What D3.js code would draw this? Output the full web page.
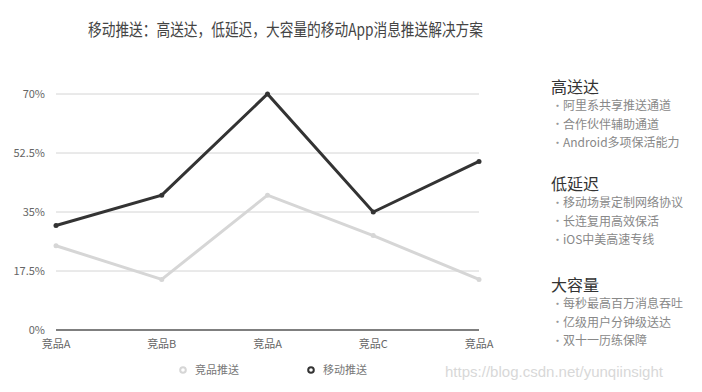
<!DOCTYPE html>
<html><head><meta charset="utf-8">
<script src="https://cdn.jsdelivr.net/npm/d3@7"></script>
<style>body{margin:0;background:#fff;}svg{display:block;font-family:"Noto Sans CJK SC","Noto Sans",sans-serif;}</style>
</head><body>
<svg id="c" width="702" height="392"></svg>
<script>
const title = "移动推送：高送达，低延迟，大容量的移动App消息推送解决方案";
const categories = ["竞品A", "竞品B", "竞品A", "竞品C", "竞品A"];
const yTicks = [0, 17.5, 35, 52.5, 70];
const yTickLabels = ["0%", "17.5%", "35%", "52.5%", "70%"];
const seriesNames = ["竞品推送", "移动推送"];
const competitorValues = [25, 15, 40, 28, 15];
const mobileValues = [31, 40, 70, 35, 50];
const panelHeadings = ["高送达", "低延迟", "大容量"];
const panelItems = [
  ["阿里系共享推送通道", "合作伙伴辅助通道", "Android多项保活能力"],
  ["移动场景定制网络协议", "长连复用高效保活", "iOS中美高速专线"],
  ["每秒最高百万消息吞吐", "亿级用户分钟级送达", "双十一历练保障"]
];
const watermark = "https://blog.csdn.net/yunqiinsight";

const svg = d3.select("#c");
const x = d3.scalePoint().domain(d3.range(categories.length)).range([56, 479]);
const y = d3.scaleLinear().domain([0, 70]).range([330, 94]);

svg.append("text").attr("x", 88).attr("y", 36).attr("font-size", 17.5)
  .attr("fill", "#444").attr("textLength", 395).attr("lengthAdjust", "spacingAndGlyphs").text(title);

// grid
svg.append("g").selectAll("line").data(yTicks.filter(d => d > 0)).join("line")
  .attr("x1", 56).attr("x2", 479).attr("y1", d => y(d)).attr("y2", d => y(d))
  .attr("stroke", "#d4d4d4").attr("stroke-width", 1);
svg.append("line").attr("x1", 56).attr("x2", 479).attr("y1", y(0)).attr("y2", y(0))
  .attr("stroke", "#555").attr("stroke-width", 1.5);

// y labels
svg.append("g").selectAll("text").data(yTicks).join("text")
  .attr("x", 45).attr("y", d => y(d)).attr("dy", "0.35em").attr("text-anchor", "end")
  .attr("font-size", 11).attr("fill", "#666").text((d, i) => yTickLabels[i]);

// x labels
svg.append("g").selectAll("text").data(categories).join("text")
  .attr("x", (d, i) => x(i)).attr("y", 348).attr("text-anchor", "middle")
  .attr("font-size", 11).attr("fill", "#666").text(d => d);

const line = d3.line().x((d, i) => x(i)).y(d => y(d));
const series = [
  {vals: competitorValues, color: "#d6d6d6"},
  {vals: mobileValues, color: "#333"}
];
series.forEach(s => {
  svg.append("path").datum(s.vals).attr("d", line).attr("fill", "none")
    .attr("stroke", s.color).attr("stroke-width", 3).attr("stroke-linejoin", "miter");
  svg.append("g").selectAll("circle").data(s.vals).join("circle")
    .attr("cx", (d, i) => x(i)).attr("cy", d => y(d)).attr("r", 2.5).attr("fill", s.color);
});

// legend
const legX = [183, 311];
seriesNames.forEach((n, i) => {
  svg.append("circle").attr("cx", legX[i]).attr("cy", 370).attr("r", 2.8)
    .attr("fill", "#fff").attr("stroke", series[i].color).attr("stroke-width", 2);
  svg.append("text").attr("x", legX[i] + 12).attr("y", 370).attr("dy", "0.35em")
    .attr("font-size", 11).attr("fill", "#777").text(n);
});

// watermark
svg.append("text").attr("x", 445).attr("y", 372).attr("dy", "0.35em").attr("font-size", 15)
  .attr("font-family", "Liberation Sans, Arial, sans-serif").attr("fill", "#d8d8d8")
  .attr("textLength", 218).attr("lengthAdjust", "spacingAndGlyphs").text(watermark);

// right panel
const headY = [87, 184, 285];
panelHeadings.forEach((h, gi) => {
  svg.append("text").attr("x", 551).attr("y", headY[gi]).attr("dy", "0.35em")
    .attr("font-size", 16).attr("fill", "#333").text(h);
  panelItems[gi].forEach((t, k) => {
    const yy = headY[gi] + 19 + k * 18.5;
    svg.append("text").attr("x", 552).attr("y", yy).attr("dy", "0.35em")
      .attr("font-size", 11).attr("fill", "#999").text("·");
    svg.append("text").attr("x", 563).attr("y", yy).attr("dy", "0.35em")
      .attr("font-size", 12).attr("fill", "#888").text(t);
  });
});
</script>
</body></html>
